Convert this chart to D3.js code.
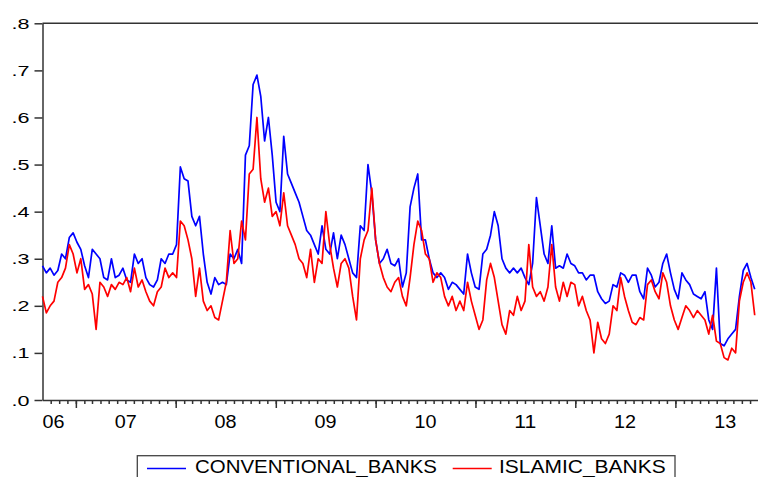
<!DOCTYPE html>
<html lang="en">
<head>
    <meta charset="UTF-8">
    <title>Banks chart</title>
    <script src="https://cdn.jsdelivr.net/npm/d3@7"></script>
    <style>
        body { margin: 0; background: #fff; }
        .axis path, .axis line
        {
            fill: none;
            stroke: #333;
            stroke-width: 1.5;
        }
        .axis text, .lbl
        {
            font-family: Arial, 'Liberation Sans', sans-serif;
            fill: #000;
        }
    </style>
</head>
<body>
<svg id="img" width="758" height="477"></svg>
<script>
    // biweekly readings, first one on 1 Sep 2006
    var startDate = new Date(2006, 8, 1),
        stepDays = 14;

    var conventional = [
        .285, .27, .28, .265, .275, .31, .30, .345, .355, .335,
        .32, .285, .26, .32, .31, .30, .26, .255, .30, .26,
        .265, .28, .255, .25, .31, .29, .30, .26, .245, .24,
        .255, .30, .29, .31, .31, .33, .495, .47, .465, .39,
        .37, .39, .31, .25, .225, .26, .245, .25, .245, .31,
        .30, .32, .29, .52, .54, .67, .69, .645, .55, .60,
        .52, .42, .40, .56, .48, .46, .44, .42, .39, .36,
        .35, .33, .31, .37, .32, .31, .355, .30, .35, .33,
        .30, .27, .26, .37, .36, .50, .44, .34, .29, .30,
        .32, .29, .285, .30, .24, .27, .41, .45, .48, .34,
        .34, .30, .27, .26, .27, .26, .235, .25, .245, .235,
        .225, .31, .27, .24, .235, .31, .32, .35, .40, .37,
        .30, .28, .27, .28, .27, .28, .26, .245, .29, .43,
        .37, .31, .29, .37, .28, .285, .28, .31, .29, .285,
        .27, .27, .255, .265, .265, .23, .215, .205, .21, .245,
        .24, .27, .265, .25, .265, .265, .23, .215, .28, .265,
        .24, .25, .29, .31, .27, .235, .215, .27, .255, .245,
        .225, .22, .215, .23, .17, .15, .28, .12, .115, .13,
        .14, .15, .22, .275, .29, .26, .235
    ];

    var islamic = [
        .22, .185, .20, .21, .25, .26, .28, .33, .31, .27,
        .30, .235, .245, .225, .15, .25, .24, .22, .245, .235,
        .25, .245, .26, .23, .28, .24, .255, .23, .21, .20,
        .23, .24, .28, .26, .27, .26, .38, .37, .34, .30,
        .22, .28, .21, .19, .20, .175, .17, .21, .25, .36,
        .29, .30, .38, .34, .48, .49, .60, .47, .42, .45,
        .39, .40, .37, .44, .37, .35, .33, .30, .29, .26,
        .32, .25, .30, .29, .40, .33, .28, .24, .29, .30,
        .28, .22, .17, .30, .34, .36, .45, .34, .29, .26,
        .24, .23, .25, .26, .22, .20, .26, .33, .38, .36,
        .31, .30, .25, .27, .26, .22, .20, .22, .19, .21,
        .19, .25, .21, .18, .15, .17, .255, .29, .26, .21,
        .16, .14, .19, .18, .22, .19, .21, .33, .24, .22,
        .23, .21, .24, .33, .24, .21, .25, .22, .25, .245,
        .20, .22, .19, .17, .10, .165, .13, .12, .14, .20,
        .19, .26, .22, .19, .165, .16, .175, .17, .245, .255,
        .23, .215, .27, .25, .20, .17, .15, .175, .20, .19,
        .175, .19, .18, .17, .14, .18, .125, .12, .09, .085,
        .11, .10, .21, .25, .27, .25, .18
    ];

    var seriesNames = ["CONVENTIONAL_BANKS", "ISLAMIC_BANKS"],
        seriesColors = ["#0000ff", "#ff0000"];

    var yearLabels = ["06", "07", "08", "09", "10", "11", "12", "13"],
        yTicks = [0, .1, .2, .3, .4, .5, .6, .7, .8];

    var vis = d3.select("#img"),
        LEFT = 42.5,
        RIGHT = 758,
        TOP = 23.3,
        BOTTOM = 400;

    var xRange = d3.scaleTime()
            .domain([startDate, new Date(2013, 9, 30)])
            .range([LEFT, RIGHT]),
        yRange = d3.scaleLinear()
            .domain([0, .8])
            .range([BOTTOM, TOP]);

    function dateAt(i) {
        return d3.timeDay.offset(startDate, i * stepDays);
    }

    // top frame line
    vis.append("line")
        .attr("x1", LEFT).attr("x2", RIGHT)
        .attr("y1", yRange(.8)).attr("y2", yRange(.8))
        .attr("stroke", "#333")
        .attr("stroke-width", 1.5);

    // month ticks (short) and year ticks (long)
    var months = d3.timeMonth.range(new Date(2006, 9, 1), xRange.domain()[1]),
        years = d3.timeYear.range(new Date(2007, 0, 1), xRange.domain()[1]);

    vis.append("g")
        .attr("class", "x axis")
        .attr("transform", "translate(0," + BOTTOM + ")")
        .call(d3.axisBottom(xRange).tickValues(months).tickSize(4).tickSizeOuter(0).tickFormat(""));

    vis.append("g")
        .attr("class", "x axis")
        .attr("transform", "translate(0," + BOTTOM + ")")
        .call(d3.axisBottom(xRange).tickValues(years).tickSize(8).tickSizeOuter(0).tickFormat(""))
        .select(".domain").remove();

    // year labels in the middle of each year
    vis.append("g").selectAll("text")
        .data(yearLabels)
        .enter().append("text")
        .attr("class", "lbl")
        .attr("x", function (d) {
            var y0 = new Date(2000 + (+d), 0, 1),
                mid = xRange(d3.timeDay.offset(y0, 182));
            return Math.max(mid, LEFT + 11);
        })
        .attr("y", 427.5)
        .attr("text-anchor", "middle")
        .attr("font-size", "18.5px")
        .attr("textLength", 22)
        .attr("lengthAdjust", "spacingAndGlyphs")
        .text(function (d) { return d; });

    // y axis
    var yAxis = vis.append("g")
        .attr("class", "y axis")
        .attr("transform", "translate(" + LEFT + ",0)")
        .call(d3.axisLeft(yRange)
            .tickValues(yTicks)
            .tickSize(8)
            .tickSizeOuter(0)
            .tickPadding(5)
            .tickFormat(function (d) { return d3.format(".1f")(d).replace(/^0/, ""); }));

    yAxis.selectAll("text")
        .attr("font-size", "14px")
        .attr("textLength", 18)
        .attr("lengthAdjust", "spacingAndGlyphs")
        .attr("dy", "0.36em");

    // series lines
    var lineFunc = d3.line()
        .x(function (d, i) { return xRange(dateAt(i)); })
        .y(function (d) { return yRange(d); });

    [conventional, islamic].forEach(function (s, k) {
        vis.append("path")
            .attr("d", lineFunc(s))
            .attr("stroke", seriesColors[k])
            .attr("stroke-width", 1.7)
            .attr("stroke-linejoin", "round")
            .attr("fill", "none");
    });

    // legend
    var legend = vis.append("g");
    legend.append("rect")
        .attr("x", 137.3).attr("y", 455.7)
        .attr("width", 537.7).attr("height", 40)
        .attr("fill", "#fff")
        .attr("stroke", "#444")
        .attr("stroke-width", 1.3);

    var legendItems = [
        {line: 147, text: 195, len: 242},
        {line: 452.7, text: 499, len: 166.7}
    ];
    legendItems.forEach(function (it, k) {
        legend.append("line")
            .attr("x1", it.line).attr("x2", it.line + 39)
            .attr("y1", 468.5).attr("y2", 468.5)
            .attr("stroke", seriesColors[k])
            .attr("stroke-width", 1.3);
        legend.append("text")
            .attr("class", "lbl")
            .attr("x", it.text)
            .attr("y", 472.5)
            .attr("font-size", "18px")
            .attr("textLength", it.len)
            .attr("lengthAdjust", "spacingAndGlyphs")
            .text(seriesNames[k]);
    });
</script>
</body>
</html>
